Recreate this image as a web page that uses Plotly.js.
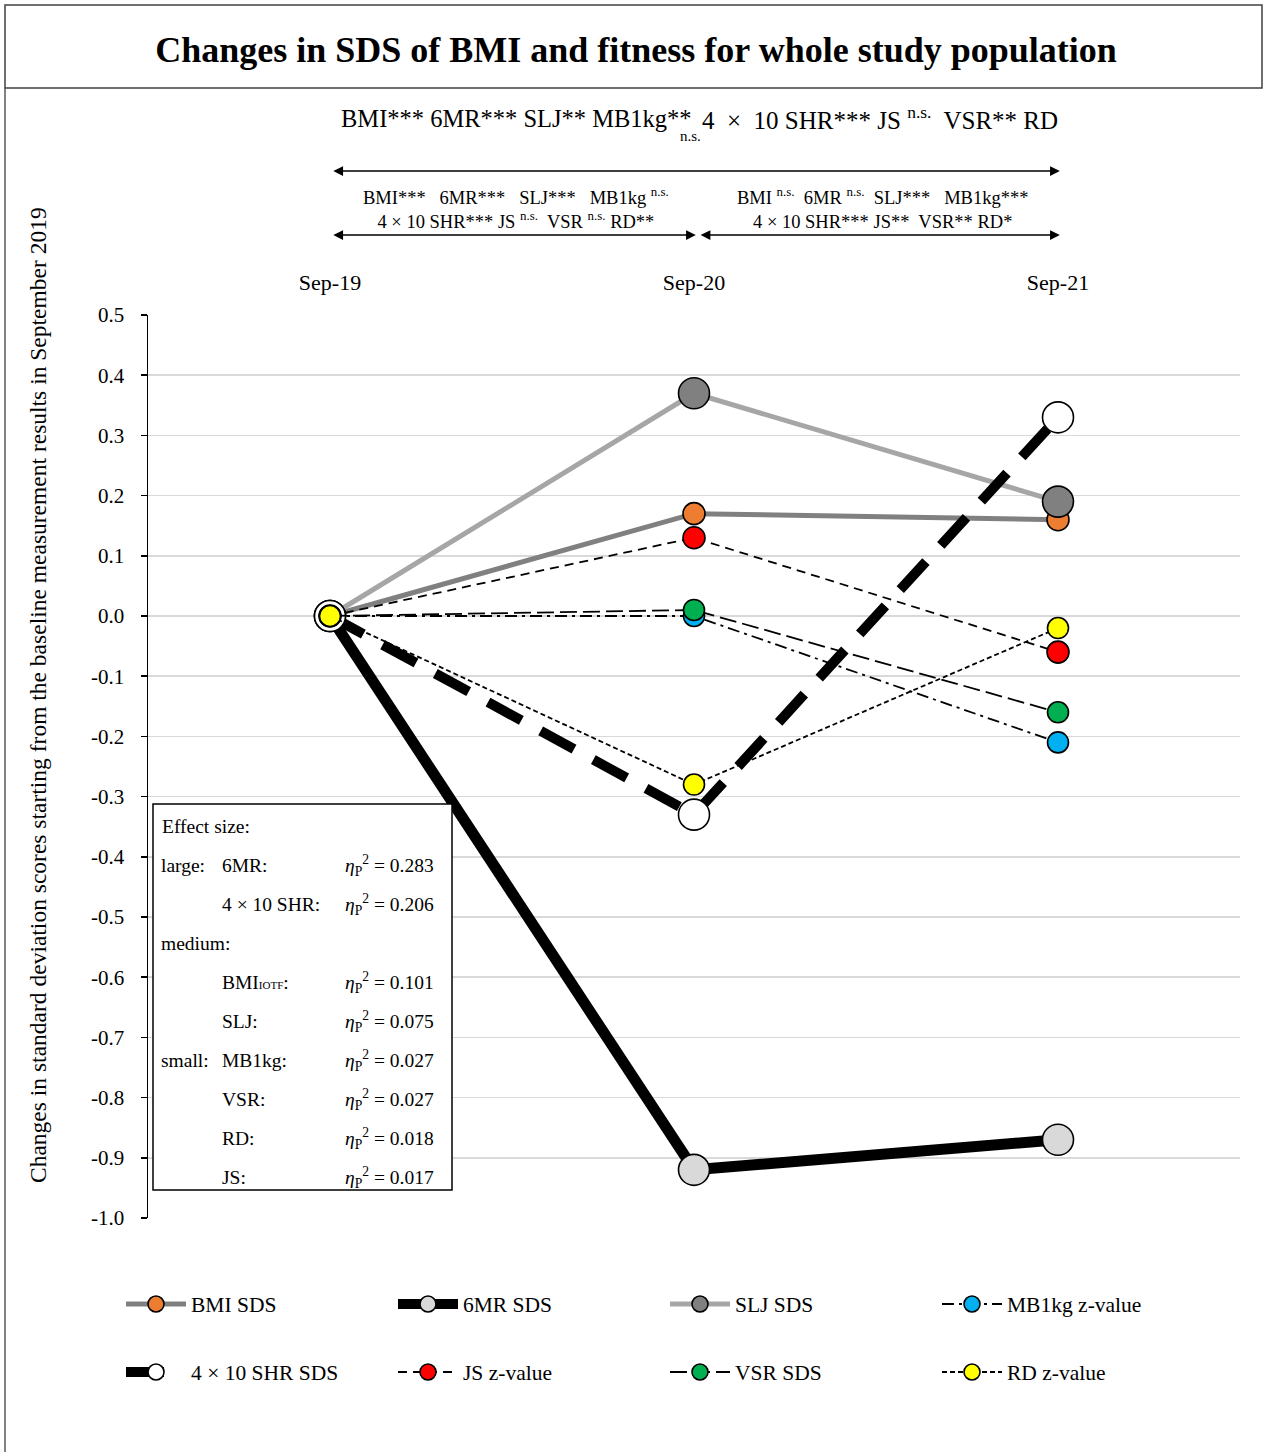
<!DOCTYPE html>
<html>
<head>
<meta charset="utf-8">
<script src="https://cdn.plot.ly/plotly-3.0.1.min.js"></script>
<style>html,body{margin:0;padding:0;background:#fff;}#chart{width:1263px;height:1452px;}</style>
</head>
<body>
<div id="chart"></div>
<script>
// ---- data ----
const timepoints = ['Sep-19', 'Sep-20', 'Sep-21'];
const seriesNames = ['BMI SDS', '6MR SDS', 'SLJ SDS', 'MB1kg z-value', '4 × 10 SHR SDS', 'JS z-value', 'VSR SDS', 'RD z-value'];
const bmi   = [0, 0.17, 0.16];
const sixMR = [0, -0.92, -0.87];
const slj   = [0, 0.37, 0.19];
const mb1kg = [0, 0.00, -0.21];
const shr   = [0, -0.33, 0.33];
const js    = [0, 0.13, -0.06];
const vsr   = [0, 0.01, -0.16];
const rd    = [0, -0.28, -0.02];
const yTickVals = [0.5, 0.4, 0.3, 0.2, 0.1, 0.0, -0.1, -0.2, -0.3, -0.4, -0.5, -0.6, -0.7, -0.8, -0.9, -1.0];
const yTickText = ['0.5', '0.4', '0.3', '0.2', '0.1', '0.0', '-0.1', '-0.2', '-0.3', '-0.4', '-0.5', '-0.6', '-0.7', '-0.8', '-0.9', '-1.0'];
const effectGroups = ['large:', '', 'medium:', '', '', 'small:', '', '', ''];
const effectLabels = ['6MR:', '4 × 10 SHR:', '', 'BMI<span style="font-size:11px">IOTF</span>:', 'SLJ:', 'MB1kg:', 'VSR:', 'RD:', 'JS:'];
const effectValues = ['0.283', '0.206', '', '0.101', '0.075', '0.027', '0.027', '0.018', '0.017'];

// ---- layout helpers (pixel -> paper) ----
const PL = 148, PR = 1240, PT = 315, PB = 1218;
const px = v => (v - PL) / (PR - PL);
const py = v => (PB - v) / (PB - PT);
const FONT = 'Liberation Serif, Times New Roman, serif';

function tr(name, y, lineColor, lineWidth, dash, mColor, mSize, legend) {
  return {
    type: 'scatter', mode: 'lines+markers', name: name, x: timepoints, y: y,
    line: {color: lineColor, width: lineWidth, dash: dash},
    marker: {color: mColor, size: mSize, line: {color: '#000', width: 1.6}},
    legend: legend, cliponaxis: false
  };
}

const traces = [
  tr(seriesNames[0], bmi, '#808080', 5, 'solid', '#ED7D31', 22, 'legend'),
  tr(seriesNames[1], sixMR, '#000000', 11, 'solid', '#D9D9D9', 31, 'legend'),
  tr(seriesNames[2], slj, '#A6A6A6', 5, 'solid', '#808080', 31, 'legend'),
  tr(seriesNames[3], mb1kg, '#000000', 1.8, '12px,5px,3px,5px', '#00B0F0', 21, 'legend'),
  tr(seriesNames[4], shr, '#000000', 10, '38px,22px', '#FFFFFF', 31, 'legend2'),
  tr(seriesNames[5], js, '#000000', 1.8, '9px,6px', '#FF0000', 22, 'legend2'),
  tr(seriesNames[6], vsr, '#000000', 1.8, '17px,6px', '#00B050', 21, 'legend2'),
  tr(seriesNames[7], rd, '#000000', 1.8, '5px,3px', '#FFFF00', 21, 'legend2')
];

const annotations = [];
// y-axis title
annotations.push({xref: 'paper', yref: 'paper', x: px(38), y: py(695), textangle: -90, showarrow: false,
  text: 'Changes in standard deviation scores starting from the baseline measurement results in September 2019',
  font: {family: FONT, size: 23.5, color: '#000'}, xanchor: 'center', yanchor: 'middle'});
// top significance line
annotations.push({xref: 'paper', yref: 'paper', x: px(694), y: py(118), showarrow: false,
  text: 'BMI*** 6MR*** SLJ** MB1kg**',
  font: {family: FONT, size: 24.5, color: '#000'}, xanchor: 'right', yanchor: 'middle'});
annotations.push({xref: 'paper', yref: 'paper', x: px(700), y: py(118), showarrow: false,
  text: '4&nbsp; ×&nbsp; 10 SHR*** JS <sup>n.s.</sup>&nbsp; VSR** RD',
  font: {family: FONT, size: 25, color: '#000'}, xanchor: 'left', yanchor: 'middle'});
annotations.push({xref: 'paper', yref: 'paper', x: px(690), y: py(136), showarrow: false,
  text: 'n.s.', font: {family: FONT, size: 15, color: '#000'}, xanchor: 'center', yanchor: 'middle'});
// interval texts
annotations.push({xref: 'paper', yref: 'paper', x: px(516), y: py(208), showarrow: false, align: 'center',
  text: 'BMI***&nbsp;&nbsp; 6MR***&nbsp;&nbsp; SLJ***&nbsp;&nbsp; MB1kg <sup>n.s.</sup><br>4 × 10 SHR*** JS <sup>n.s.</sup>&nbsp; VSR <sup>n.s.</sup> RD**',
  font: {family: FONT, size: 18.5, color: '#000'}, xanchor: 'center', yanchor: 'middle'});
annotations.push({xref: 'paper', yref: 'paper', x: px(882), y: py(208), showarrow: false, align: 'center',
  text: 'BMI <sup>n.s.</sup>&nbsp; 6MR <sup>n.s.</sup>&nbsp; SLJ***&nbsp;&nbsp; MB1kg***<br>4 × 10 SHR*** JS**&nbsp; VSR** RD*',
  font: {family: FONT, size: 18.5, color: '#000'}, xanchor: 'center', yanchor: 'middle'});
// double arrows
function dblArrow(x0, x1, yy) {
  annotations.push({xref: 'x', yref: 'paper', axref: 'x', ayref: 'paper', x: x1, y: yy, ax: x0, ay: yy,
    text: '', showarrow: true, arrowside: 'end+start', arrowhead: 2, arrowsize: 1.3, arrowwidth: 1.5, arrowcolor: '#000',
    standoff: 0, startstandoff: 0});
}
dblArrow(0.005, 2.005, py(171));
dblArrow(0.005, 1.005, py(235));
dblArrow(1.014, 2.005, py(235));

// effect size box text
const efFont = {family: FONT, size: 19.5, color: '#000'};
annotations.push({xref: 'paper', yref: 'paper', x: px(160), y: py(826), showarrow: false, xanchor: 'left', yanchor: 'middle',
  text: 'Effect size:', font: efFont});
for (let i = 0; i < effectLabels.length; i++) {
  const yy = py(865 + 39 * i);
  if (effectGroups[i]) annotations.push({xref: 'paper', yref: 'paper', x: px(159), y: yy, showarrow: false, xanchor: 'left', yanchor: 'middle', text: effectGroups[i], font: efFont});
  if (effectLabels[i]) annotations.push({xref: 'paper', yref: 'paper', x: px(220), y: yy, showarrow: false, xanchor: 'left', yanchor: 'middle', text: effectLabels[i], font: efFont});
  if (effectValues[i]) annotations.push({xref: 'paper', yref: 'paper', x: px(343), y: yy, showarrow: false, xanchor: 'left', yanchor: 'middle',
    text: '<i>η</i><sub>P</sub><sup>2</sup> = ' + effectValues[i], font: efFont});
}

const shapes = [
  {type: 'rect', xref: 'paper', yref: 'paper', x0: px(5), x1: px(1262), y0: py(5), y1: py(88), line: {color: '#404040', width: 1.5}, layer: 'above'},
  {type: 'line', xref: 'paper', yref: 'paper', x0: px(5), x1: px(5), y0: py(88), y1: py(1460), line: {color: '#595959', width: 1.5}, layer: 'above'},
  {type: 'rect', xref: 'paper', yref: 'paper', x0: px(153), x1: px(452), y0: py(804), y1: py(1190), fillcolor: '#FFFFFF', line: {color: '#000', width: 1.5}, layer: 'above'}
];

const legendBase = {orientation: 'h', xanchor: 'left', yanchor: 'middle', entrywidth: 197, entrywidthmode: 'pixels',
  itemwidth: 60, font: {family: FONT, size: 21.5, color: '#000'}, bgcolor: 'rgba(0,0,0,0)', traceorder: 'normal'};

const layout = {
  width: 1263, height: 1452,
  paper_bgcolor: '#FFFFFF', plot_bgcolor: '#FFFFFF',
  margin: {l: PL, r: 1263 - PR, t: PT, b: 1452 - PB},
  font: {family: FONT, color: '#000'},
  title: {text: '<b>Changes in SDS of BMI and fitness for whole study population</b>',
    x: 636 / 1263, xanchor: 'center', y: 1 - 49 / 1452, yanchor: 'middle', yref: 'container',
    font: {family: FONT, size: 36, color: '#000'}},
  xaxis: {type: 'category', categoryarray: timepoints, range: [-0.5, 2.5], side: 'top', showgrid: false, zeroline: false,
    showline: false, ticks: '', ticklabelstandoff: 20, tickfont: {family: FONT, size: 22, color: '#000'}, fixedrange: true},
  yaxis: {range: [-1.0, 0.5], tickvals: yTickVals, ticktext: yTickText, showline: true, linecolor: '#000', linewidth: 1.5,
    ticks: 'outside', ticklen: 6, tickwidth: 1.5, tickcolor: '#000', gridcolor: '#D9D9D9', gridwidth: 1.5, zeroline: false,
    tickfont: {family: FONT, size: 21, color: '#000'}, ticklabelstandoff: 12},
  legend: Object.assign({}, legendBase, {x: px(121), y: py(1304)}),
  legend2: Object.assign({}, legendBase, {x: px(121), y: py(1372)}),
  showlegend: true,
  annotations: annotations,
  shapes: shapes
};

Plotly.newPlot('chart', traces, layout, {displayModeBar: false, staticPlot: true});
</script>
</body>
</html>
